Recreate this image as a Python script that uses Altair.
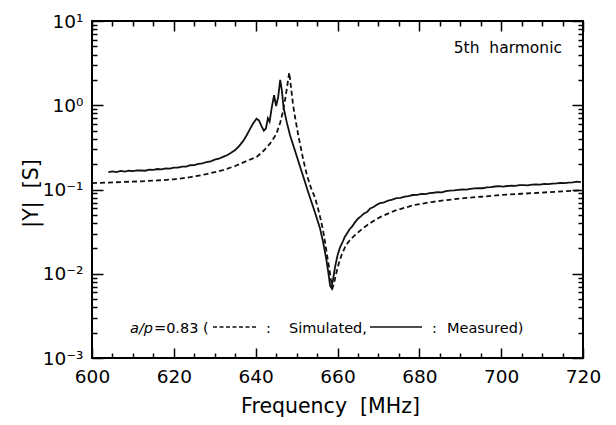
import altair as alt
import pandas as pd

FONT = "DejaVu Sans"
W, H = 491, 337
NB = "\u00a0"

# ---- simulated |Y| (dashed) ----
freq_sim = [600, 604, 608, 612, 616, 620, 624, 628, 632, 635, 638, 640.3, 642, 643.5, 645,
            646, 646.7, 647.3, 647.8, 648.2, 648.6, 649.1, 649.6, 650.5, 651.6, 652.5, 653.5,
            654.5, 655.3, 656, 656.5, 657, 657.5, 658, 658.4, 658.8, 659.1, 659.5, 660, 660.5,
            661, 662, 663, 664, 666, 668, 670.4, 674, 678.5, 683, 686.7, 691, 695, 700, 705,
            710, 715, 720]
y_sim = [0.119, 0.121, 0.123, 0.125, 0.128, 0.132, 0.140, 0.152, 0.170, 0.190, 0.22, 0.245,
         0.29, 0.35, 0.45, 0.62, 0.85, 1.25, 1.8, 2.45, 1.7, 1.05, 0.73, 0.42, 0.23, 0.15,
         0.105, 0.080, 0.058, 0.042, 0.032, 0.023, 0.016, 0.0115, 0.0085, 0.0068, 0.0075,
         0.0092, 0.0117, 0.0142, 0.0167, 0.0215, 0.025, 0.028, 0.034, 0.040, 0.047, 0.056,
         0.065, 0.071, 0.075, 0.079, 0.082, 0.086, 0.089, 0.092, 0.095, 0.098]

# ---- measured |Y| (solid) ----
freq_meas = [604, 605, 606, 607, 608, 609, 610, 611, 612, 613, 614, 615, 616, 617, 618, 619,
             620, 621, 622, 623, 624, 625, 626, 627, 628, 629, 630, 631, 632, 633, 634, 635,
             636, 637, 637.8, 638.6, 639.4, 640.2, 640.8, 641.4, 642.0, 642.5, 643.0, 643.4,
             643.9, 644.5, 645.0, 645.5, 646.0, 646.4, 646.8, 647.6, 648.4, 649.5, 650.8,
             652.0, 653.0, 654.3, 655.7, 656.5, 657.2, 657.8, 658.2, 658.5, 658.9, 659.4,
             660.0, 660.6, 661.2, 661.8, 662.4, 663.0, 663.6, 664.3, 665.0, 665.7, 666.5,
             667.3, 668.0, 668.8, 669.6, 670.4, 671.4, 672.4, 673.4, 674.4, 675.4, 676.4,
             677.4, 678.4, 679.5, 680.5, 681.5, 682.5, 683.5, 684.5, 685.5, 686.5, 687.5,
             688.5, 689.5, 690.5, 691.5, 692.5, 693.5, 694.5, 695.5, 696.5, 697.5, 698.5,
             699.5, 700.5, 701.5, 702.5, 703.5, 704.5, 705.5, 706.5, 707.5, 708.5, 709.5,
             710.5, 711.5, 712.5, 713.5, 714.5, 715.5, 716.5, 717.5, 718.5, 719.5]
y_meas = [0.161, 0.164, 0.161, 0.166, 0.163, 0.167, 0.165, 0.169, 0.168, 0.167, 0.172, 0.171,
          0.175, 0.173, 0.178, 0.177, 0.182, 0.182, 0.187, 0.187, 0.194, 0.195, 0.202, 0.204,
          0.212, 0.216, 0.226, 0.232, 0.244, 0.255, 0.273, 0.294, 0.33, 0.38, 0.44, 0.52,
          0.61, 0.69, 0.66, 0.57, 0.50, 0.53, 0.70, 0.64, 0.92, 1.32, 0.98, 1.25, 2.0, 1.5,
          0.95, 0.63, 0.44, 0.30, 0.19, 0.125, 0.088, 0.057, 0.035, 0.0235, 0.0155, 0.0100,
          0.0072, 0.0068, 0.0085, 0.0120, 0.0165, 0.0205, 0.0235, 0.0275, 0.0305, 0.0340,
          0.0365, 0.0410, 0.0450, 0.0480, 0.0520, 0.0545, 0.0595, 0.0620, 0.0660, 0.0690,
          0.0705, 0.0740, 0.0760, 0.0790, 0.0795, 0.0825, 0.0835, 0.0860, 0.0865, 0.0885,
          0.0880, 0.0905, 0.0915, 0.0930, 0.0925, 0.0955, 0.0970, 0.0975, 0.0990, 0.1000,
          0.0995, 0.1020, 0.1030, 0.1040, 0.1035, 0.1060, 0.1065, 0.1085, 0.1095, 0.1080,
          0.1100, 0.1110, 0.1105, 0.1125, 0.1130, 0.1120, 0.1140, 0.1150, 0.1145, 0.1165,
          0.1160, 0.1175, 0.1180, 0.1195, 0.1190, 0.1210, 0.1215, 0.1240, 0.1225]

# ---- ticks / labels ----
x_major = [600, 620, 640, 660, 680, 700, 720]
x_ticks = [600, 605, 610, 615, 620, 625, 630, 635, 640, 645, 650, 655, 660, 665, 670, 675,
           680, 685, 690, 695, 700, 705, 710, 715, 720]
decades = [0.001, 0.01, 0.1, 1, 10]
decade_labels = ["10⁻³", "10⁻²", "10⁻¹", "10⁰", "10¹"]
mantissas = [1, 2, 3, 4, 5, 6, 7, 8, 9]
y_ticks = [m * d for d in decades[:-1] for m in mantissas] + [decades[-1]]

sim_df = pd.DataFrame({"f": freq_sim, "v": y_sim})
meas_df = pd.DataFrame({"f": freq_meas, "v": y_meas})

label_expr = "''"
for d, lab in zip(decades, decade_labels):
    label_expr = f"abs(datum.value - {d}) < {d * 1e-6} ? '{lab}' : ({label_expr})"

x_scale = alt.Scale(domain=[600, 720], nice=False, zero=False)
y_scale = alt.Scale(type="log", domain=[0.001, 10], nice=False)

x_tick_size = {"condition": {"test": "datum.value % 20 === 0", "value": 10}, "value": 5}
y_tick_size = {"condition": {"test": "abs(log(datum.value)/LN10 - round(log(datum.value)/LN10)) < 0.001",
                             "value": 11}, "value": 5}

common_tick = dict(labels=False, domain=False, grid=False, ticks=True, tickColor="#000",
                   tickWidth=1.5, title=None)

ax_x_labels = alt.Axis(orient="bottom", values=x_major, ticks=False, domain=False, grid=False,
                       labelFlush=False, labelOverlap=False, labelFont=FONT, labelFontSize=18.5,
                       labelColor="#000", labelPadding=9, title=f"Frequency{NB}{NB}[MHz]",
                       titleFont=FONT, titleFontSize=20.5, titleFontWeight="normal",
                       titleColor="#000", titleX=238, titleY=54, titleBaseline="alphabetic",
                       titleAlign="center")
ax_x_bot = alt.Axis(orient="top", offset=-H, values=x_ticks, tickSize=x_tick_size, **common_tick)
ax_x_top = alt.Axis(orient="bottom", offset=-H, values=x_ticks, tickSize=x_tick_size, **common_tick)

ax_y_labels = alt.Axis(orient="left", values=decades, ticks=False, domain=False, grid=False,
                       labelExpr=label_expr, labelOverlap=False, labelFlush=False,
                       labelFont=FONT, labelFontSize=18.5, labelColor="#000", labelPadding=9,
                       title=f"|Y|{NB}{NB}[S]", titleFont=FONT, titleFontSize=20.5,
                       titleFontWeight="normal", titleColor="#000", titleX=-61, titleY=172,
                       titleAlign="center", titleBaseline="middle", titleAngle=270)
ax_y_left = alt.Axis(orient="right", offset=-W, values=y_ticks, tickSize=y_tick_size, **common_tick)
ax_y_right = alt.Axis(orient="left", offset=-W, values=y_ticks, tickSize=y_tick_size, **common_tick)

sim_line = alt.Chart(sim_df).mark_line(color="#111", strokeWidth=1.8, strokeDash=[5, 3]).encode(
    x=alt.X("f:Q", scale=x_scale, axis=ax_x_labels),
    y=alt.Y("v:Q", scale=y_scale, axis=ax_y_labels),
)
meas_line = alt.Chart(meas_df).mark_line(color="#111", strokeWidth=1.8).encode(
    x=alt.X("f:Q", scale=x_scale, axis=ax_x_bot),
    y=alt.Y("v:Q", scale=y_scale, axis=ax_y_left),
)
ghost = alt.Chart(sim_df).mark_line(strokeOpacity=0).encode(
    x=alt.X("f:Q", scale=x_scale, axis=ax_x_top),
    y=alt.Y("v:Q", scale=y_scale, axis=ax_y_right),
)

ann = pd.DataFrame({"k": [0]})
TS = 14.5
harm = alt.Chart(ann).mark_text(text=f"5th{NB}{NB}harmonic", font=FONT, fontSize=15.5,
                                align="right", baseline="alphabetic", color="#000").encode(
    x=alt.value(470), y=alt.value(32))
t_ap = alt.Chart(ann).mark_text(text="a/p", font=FONT, fontSize=TS, fontStyle="italic",
                                align="left", baseline="alphabetic", color="#000").encode(
    x=alt.value(38), y=alt.value(312))
t_val = alt.Chart(ann).mark_text(text=f"=0.83{NB}(", font=FONT, fontSize=TS, align="left",
                                 baseline="alphabetic", color="#000").encode(
    x=alt.value(62), y=alt.value(312))
dash_sample = alt.Chart(ann).mark_rule(color="#111", strokeWidth=1.5, strokeDash=[4, 2.5]).encode(
    x=alt.value(121), x2=alt.value(165), y=alt.value(306))
t_c1 = alt.Chart(ann).mark_text(text=":", font=FONT, fontSize=TS, align="left",
                                baseline="alphabetic", color="#000").encode(
    x=alt.value(174), y=alt.value(312))
t_sim = alt.Chart(ann).mark_text(text="Simulated,", font=FONT, fontSize=TS, align="left",
                                 baseline="alphabetic", color="#000").encode(
    x=alt.value(197), y=alt.value(312))
solid_sample = alt.Chart(ann).mark_rule(color="#111", strokeWidth=1.5).encode(
    x=alt.value(278), x2=alt.value(330), y=alt.value(306))
t_c2 = alt.Chart(ann).mark_text(text=":", font=FONT, fontSize=TS, align="left",
                                baseline="alphabetic", color="#000").encode(
    x=alt.value(340), y=alt.value(312))
t_meas = alt.Chart(ann).mark_text(text="Measured)", font=FONT, fontSize=TS, align="left",
                                  baseline="alphabetic", color="#000").encode(
    x=alt.value(355), y=alt.value(312))

chart = alt.layer(
    sim_line, meas_line, ghost, harm, t_ap, t_val, dash_sample, t_c1, t_sim, solid_sample,
    t_c2, t_meas
).resolve_axis(x="independent", y="independent").properties(
    width=W, height=H, autosize="none",
    padding={"left": 84, "top": 13, "right": 25, "bottom": 59},
    background="white",
).configure_view(stroke="#000", strokeWidth=2)

chart.save("out.html", embed_options={"renderer": "svg", "actions": False})
